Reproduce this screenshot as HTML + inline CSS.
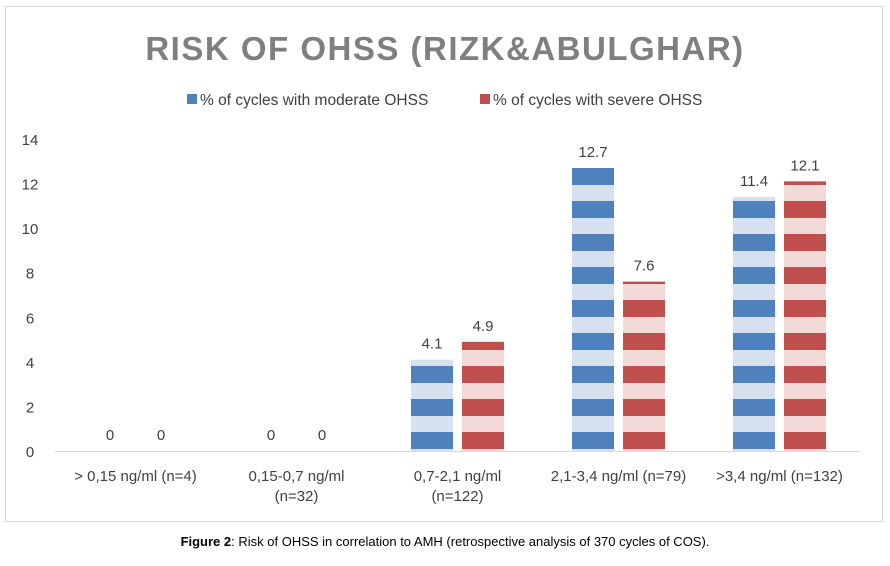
<!DOCTYPE html>
<html><head><meta charset="utf-8"><style>
body{margin:0;background:#fff;width:890px;height:561px;overflow:hidden;font-family:"Liberation Sans",sans-serif}
</style></head><body>
<svg width="890" height="561">
<defs>
<pattern id="pb" patternUnits="userSpaceOnUse" x="0" y="168" width="10" height="33">
<rect width="10" height="33" fill="#d6e0ee"/><rect width="10" height="17" fill="#4f81bd"/></pattern>
<pattern id="pr" patternUnits="userSpaceOnUse" x="0" y="168" width="10" height="33">
<rect width="10" height="33" fill="#f3d9d8"/><rect width="10" height="17" fill="#c0504d"/></pattern>
</defs>
<rect x="5.5" y="6.5" width="877" height="515" fill="#fff" stroke="#d9d9d9"/>
<text x="445" y="60" text-anchor="middle" font-size="33" font-weight="bold" fill="#7f7f7f" letter-spacing="1.5">RISK OF OHSS (RIZK&amp;ABULGHAR)</text>
<g font-size="15.5" fill="#404040">
<rect x="187" y="94" width="10" height="10" fill="#4f81bd"/>
<text x="200" y="105">% of cycles with moderate OHSS</text>
<rect x="480" y="94" width="10" height="10" fill="#c0504d"/>
<text x="493" y="105">% of cycles with severe OHSS</text>
</g>
<g id="axes"></g><g id="bars"></g>
<text x="445" y="546" text-anchor="middle" font-size="13" fill="#000"><tspan font-weight="bold">Figure 2</tspan>: Risk of OHSS in correlation to AMH (retrospective analysis of 370 cycles of COS).</text>
</svg>
<script>
const categories=[["> 0,15 ng/ml (n=4)"],["0,15-0,7 ng/ml","(n=32)"],["0,7-2,1 ng/ml","(n=122)"],["2,1-3,4 ng/ml (n=79)"],[">3,4 ng/ml (n=132)"]];
const moderate=[0,0,4.1,12.7,11.4];
const severe=[0,0,4.9,7.6,12.1];
const yTicks=[0,2,4,6,8,10,12,14];
const NS="http://www.w3.org/2000/svg";
const y0=451,yTop=139,yMax=14,x0=55,step=161;
const y=v=>y0-(v/yMax)*(y0-yTop);
const xc=i=>x0+step*(i+0.5);
const ax=document.getElementById('axes'),bg=document.getElementById('bars');
function mk(tag,at,parent){const e=document.createElementNS(NS,tag);for(const k in at)e.setAttribute(k,at[k]);parent.appendChild(e);return e;}
yTicks.forEach(t=>{const e=mk('text',{x:30,y:y(t)+6,'text-anchor':'middle','font-size':15,fill:'#404040'},ax);e.textContent=t;

});
const base=mk('line',{x1:x0,x2:860,y1:y0+0.5,y2:y0+0.5,stroke:'#d9d9d9'},ax);


categories.forEach((c,i)=>{c.forEach((ln,j)=>{const e=mk('text',{x:xc(i),y:481+j*20,'text-anchor':'middle','font-size':15,fill:'#404040'},ax);e.textContent=ln;

});});
const bw=42,gap=9;
[[moderate,'url(#pb)',-1],[severe,'url(#pr)',1]].forEach(([arr,fill,s],si)=>{
arr.forEach((v,i)=>{const bx=s<0?xc(i)-gap/2-bw:xc(i)+gap/2;
if(v>0){const r=mk('rect',{x:bx,y:y(v),width:bw,height:y0-y(v),fill:fill},bg);

}
const t=mk('text',{x:bx+bw/2,y:y(v)-11,'text-anchor':'middle','font-size':15,fill:'#404040'},bg);t.textContent=v;

});});
</script>
</body></html>
